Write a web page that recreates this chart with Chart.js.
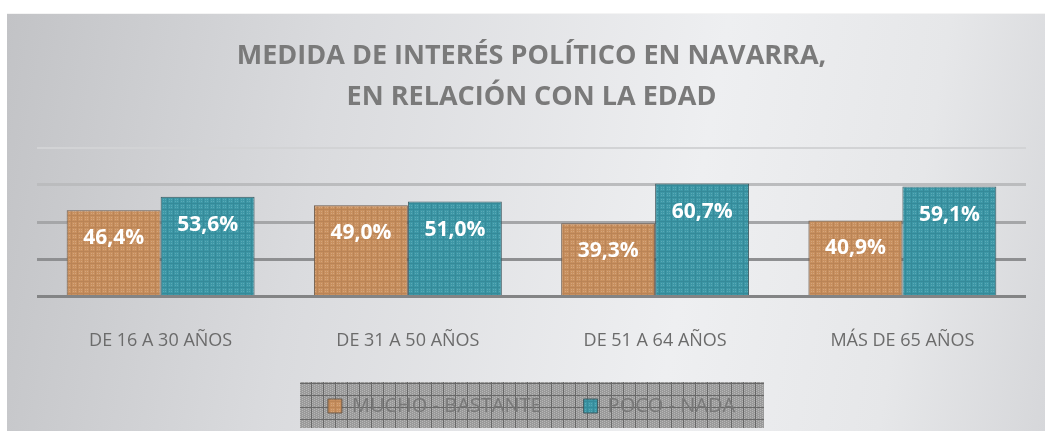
<!DOCTYPE html>
<html>
<head>
<meta charset="utf-8">
<script src="https://cdn.jsdelivr.net/npm/chart.js@4.4.1/dist/chart.umd.min.js"></script>
<style>
	body { margin:0; background:#fff; width:1045px; height:438px; overflow:hidden; position:relative; }
	#card { position:absolute; left:7px; top:13px; width:1038px; height:417px;
		background:linear-gradient(100deg,#c2c3c6 0%,#dadbde 30%,#eeeff1 65%,#e6e7e9 85%,#d6d7da 100%);
		border-top:1px solid #f4f4f4; }
	#chart_wrap { position:absolute; left:0; top:0; width:1045px; height:438px; }
</style>
</head>
<body>
<div id="card"></div>
<div id="chart_wrap"><canvas id="age_chart" width="1045" height="438"></canvas></div>
<script>
var categories = ["DE 16 A 30 AÑOS","DE 31 A 50 AÑOS","DE 51 A 64 AÑOS","MÁS DE 65 AÑOS"];
var muchoBastante = [46.4, 49.0, 39.3, 40.9];
var pocoNada = [53.6, 51.0, 60.7, 59.1];
var seriesNames = ["MUCHO - BASTANTE","POCO - NADA"];
var titleLines = ["MEDIDA DE INTERÉS POLÍTICO EN NAVARRA,","EN RELACIÓN CON LA EDAD"];

function makePattern(base,dot,line) {
	var c = document.createElement("canvas");
	c.width = 6; c.height = 6;
	var g = c.getContext("2d");
	g.fillStyle = base; g.fillRect(0,0,6,6);
	g.fillStyle = dot;
	g.fillRect(1,1,1,1); g.fillRect(3,1,1,1); g.fillRect(1,3,1,1); g.fillRect(3,3,1,1);
	g.fillStyle = line;
	g.fillRect(5,0,1,6); g.fillRect(0,5,6,1);
	return g.createPattern(c,"repeat");
}

var orangeFill = makePattern("#c8905f","#d4a57c","#ba8456");
var blueFill = makePattern("#3d97a6","#5aa9b6","#358a99");

var legendBg = {
	id: "legendBg",
	beforeDraw: function(chart) {
		var lg = chart.legend;
		if (!lg || !lg.legendHitBoxes.length) return;
		var ctx = chart.ctx;
		var c = document.createElement("canvas");
		c.width = 12; c.height = 12;
		var g = c.getContext("2d");
		g.fillStyle = "#9a9a9a"; g.fillRect(0,0,12,12);
		g.fillStyle = "#b6b6b6";
		for (var i=0;i<12;i+=2) for (var j=(i/2)%2;j<12;j+=2) g.fillRect(i,j,1,1);
		g.fillStyle = "#686868";
		g.fillRect(11,0,1,12); g.fillRect(0,11,12,1);
		var pat = ctx.createPattern(c,"repeat");
		ctx.save();
		ctx.fillStyle = pat;
		ctx.fillRect(300, 382, 464, 46);
		ctx.restore();
	}
};

var barLabels = {
	id: "barLabels",
	afterDatasetsDraw: function(chart) {
		var ctx = chart.ctx;
		ctx.save();
		ctx.fillStyle = "#ffffff";
		ctx.font = "bold 21px 'Open Sans'";
		ctx.textAlign = "center";
		ctx.textBaseline = "middle";
		chart.data.datasets.forEach(function(ds,di) {
			chart.getDatasetMeta(di).data.forEach(function(bar,ix) {
				var txt = ds.data[ix].toFixed(1).replace(".",",") + "%";
				ctx.fillText(txt, bar.x, bar.y + 28);
			});
		});
		ctx.restore();
	}
};

var ctx = document.getElementById("age_chart");
var ageChart = new Chart(ctx, {
	type: "bar",
	data: {
		labels: categories,
		datasets: [{
			label: seriesNames[0],
			data: muchoBastante,
			backgroundColor: orangeFill,
			borderColor: "#6a5a4c",
			borderWidth: 1
		},{
			label: seriesNames[1],
			data: pocoNada,
			backgroundColor: blueFill,
			borderColor: "#3e5a60",
			borderWidth: 1
		}]
	},
	options: {
		responsive: false,
		animation: false,
		layout: { padding: { left: 37, right: 19, top: 35, bottom: 12 } },
		datasets: { bar: { categoryPercentage: 0.76, barPercentage: 1 } },
		scales: {
			x: {
				grid: { display: false },
				border: { display: false },
				ticks: { color: "#6b6b6b", font: { family: "'Open Sans'", size: 18 }, padding: 26 },
				afterFit: function(scale) { scale.height -= 24; }
			},
			y: {
				min: 0, max: 80,
				ticks: { display: false, stepSize: 20 },
				border: { display: false },
				grid: {
					drawTicks: false,
					lineWidth: function(c) { return c.tick.value === 80 ? 2 : 3; },
					color: function(c) {
						var cols = {0:"#838485",20:"#8e8f91",40:"#a5a6a8",60:"#bbbcbe",80:"#d2d3d5"};
						return cols[c.tick.value] || "#bbb";
					}
				}
			}
		},
		plugins: {
			title: {
				display: true,
				text: titleLines,
				color: "#7a7a7a",
				font: { family: "'Open Sans'", size: 27, weight: "bold", lineHeight: 1.55 },
				padding: { top: 0, bottom: 29 }
			},
			legend: {
				position: "bottom",
				labels: {
					color: "#787878",
					font: { family: "'Open Sans'", size: 20 },
					boxWidth: 14, boxHeight: 14,
					padding: 42
				}
			},
			tooltip: { enabled: false }
		}
	},
	plugins: [legendBg, barLabels]
});
</script>
</body>
</html>
